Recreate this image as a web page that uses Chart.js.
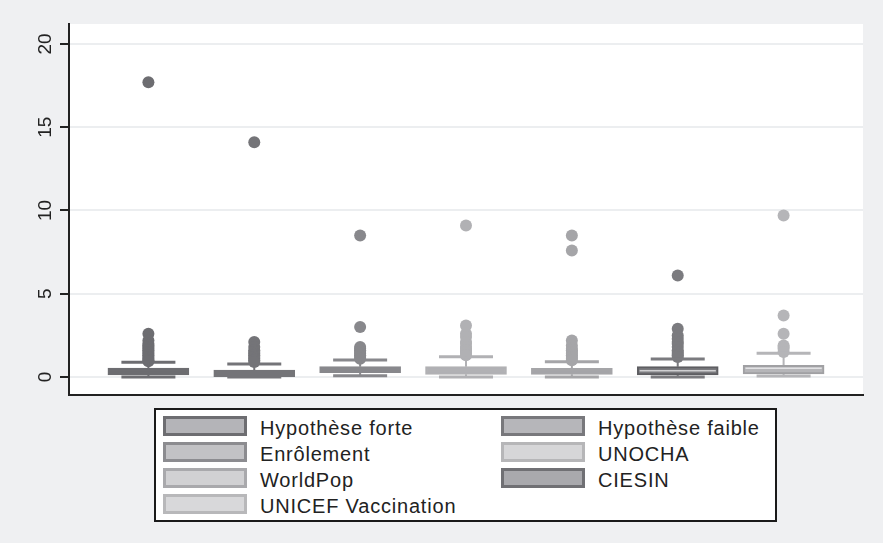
<!DOCTYPE html>
<html><head><meta charset="utf-8">
<script src="https://cdn.jsdelivr.net/npm/chart.js@4"></script>
<style>
html,body{margin:0;padding:0;background:#fff;}
#wrap{position:relative;width:883px;height:543px;overflow:hidden;}
canvas{position:absolute;left:0;top:0;}
#legend{position:absolute;left:154px;top:408px;width:623px;height:114px;border:2px solid #1a1a1a;background:#fff;box-sizing:border-box;font-family:"Liberation Sans",Arial,sans-serif;font-size:20px;color:#222;}
.item{position:absolute;height:20px;}
.key{position:absolute;left:0;top:0;width:84px;height:20px;box-sizing:border-box;border:3px solid;}
.lab{position:absolute;left:97px;top:0px;white-space:nowrap;line-height:24px;letter-spacing:0.8px;}
</style></head>
<body><div id="wrap"><canvas id="c" width="883" height="543"></canvas><div id="legend"></div></div>
<script>
// ---- data ----
const categories = ['Hypothèse forte','Hypothèse faible','Enrôlement','UNOCHA','WorldPop','CIESIN','UNICEF Vaccination'];
const q1 = [0.12, 0.02, 0.26, 0.16, 0.16, 0.12, 0.18];
const medians = [0.30, 0.20, 0.40, 0.35, 0.30, 0.38, 0.52];
const q3 = [0.54, 0.42, 0.62, 0.62, 0.52, 0.62, 0.70];
const lowerWhisker = [0.00, 0.00, 0.08, 0.00, 0.00, 0.00, 0.06];
const upperWhisker = [0.88, 0.78, 1.02, 1.22, 0.92, 1.08, 1.42];
const outliers = [
  [17.7, 2.6, 2.2, 2.0, 1.9, 1.8, 1.7, 1.6, 1.5, 1.4, 1.3, 1.2, 1.1, 1.0, 0.95],
  [14.1, 2.1, 1.8, 1.6, 1.5, 1.4, 1.3, 1.2, 1.1, 1.0, 0.9],
  [8.5, 3.0, 1.8, 1.7, 1.6, 1.5, 1.4, 1.3, 1.2, 1.1],
  [9.1, 3.1, 2.6, 2.4, 2.1, 2.0, 1.8, 1.7, 1.6, 1.5, 1.4, 1.3],
  [8.5, 7.6, 2.2, 1.9, 1.7, 1.6, 1.5, 1.4, 1.3, 1.2, 1.1, 1.0],
  [6.1, 2.9, 2.5, 2.3, 2.1, 2.0, 1.8, 1.6, 1.5, 1.4, 1.3, 1.2],
  [9.7, 3.7, 2.6, 1.9, 1.8, 1.7, 1.5]
];
const yTicks = [0, 5, 10, 15, 20];

// ---- styles ----
const fillColors = ['#6d6d71','#747478','#88888c','#b1b1b4','#a5a5a8','#7b7b7f','#b5b5b8'];
const borderColors = ['#6d6d71','#747478','#88888c','#b1b1b4','#a5a5a8','#5e5e62','#a0a0a3'];
const medianColors = ['#6d6d71','#747478','#88888c','#b1b1b4','#a5a5a8','#d0d0d2','#e2e2e4'];
const legendFill = ['#b4b4b8','#b6b6ba','#c2c2c5','#d6d6d8','#d1d1d3','#a9a9ad','#d8d8da'];
const legendBorder = ['#6d6d71','#78787c','#8c8c90','#b6b6b8','#a9a9ac','#707074','#b8b8ba'];
const CAP = 0.255, MED = 0.36, BOXW = 81;

const datasets = [];
categories.forEach((name, i) => {
  const x = i + 1;
  datasets.push({type:'bar', label:name, data:[{x:x, y:[q1[i], q3[i]]}],
    backgroundColor: fillColors[i], borderColor: borderColors[i], borderWidth: 2,
    borderSkipped:false, barThickness: BOXW, grouped:false, order:1});
  datasets.push({type:'line', label:name+' stems', data:[{x:x,y:q3[i]},{x:x,y:upperWhisker[i]},{x:x,y:null},{x:x,y:q1[i]},{x:x,y:lowerWhisker[i]}],
    borderColor: fillColors[i], borderWidth: 2, pointRadius:0, spanGaps:false, order:2});
  datasets.push({type:'line', label:name+' caps', data:[{x:x-CAP,y:upperWhisker[i]},{x:x+CAP,y:upperWhisker[i]},{x:x,y:null},{x:x-CAP,y:lowerWhisker[i]},{x:x+CAP,y:lowerWhisker[i]}],
    borderColor: fillColors[i], borderWidth: 3, pointRadius:0, spanGaps:false, order:2});
  datasets.push({type:'line', label:name+' median', data:[{x:x-MED,y:medians[i]},{x:x+MED,y:medians[i]}],
    borderColor: medianColors[i], borderWidth: 1.5, pointRadius:0, order:0});
  datasets.push({type:'line', label:name+' outliers', data: outliers[i].map(v => ({x:x, y:v})),
    showLine:false, pointRadius:6, pointHoverRadius:6, pointBackgroundColor: fillColors[i], pointBorderWidth:0, order:3});
});

const bgPlugin = {
  id:'bg',
  beforeDraw(chart){
    const {ctx, chartArea:a} = chart;
    ctx.save();
    ctx.fillStyle = '#eff0f2';
    ctx.fillRect(0,0,chart.width,chart.height);
    ctx.fillStyle = '#ffffff';
    ctx.fillRect(a.left, a.top, a.right-a.left, a.bottom-a.top);
    ctx.restore();
  },
  afterDraw(chart){
    const {ctx} = chart; const s = chart.scales.y;
    ctx.save();
    ctx.fillStyle = '#222';
    ctx.font = '19px "Liberation Sans", Arial, sans-serif';
    ctx.textAlign = 'center'; ctx.textBaseline = 'alphabetic';
    s.ticks.forEach(t => {
      const py = s.getPixelForValue(t.value);
      ctx.save(); ctx.translate(51, py); ctx.rotate(-Math.PI/2);
      ctx.fillText(String(t.value), 0, 0); ctx.restore();
    });
    ctx.restore();
  }
};

new Chart(document.getElementById('c'), {
  type:'bar',
  data:{datasets},
  options:{
    responsive:false, animation:false,
    layout:{padding:{left:0, right:20, top:24, bottom:148}},
    plugins:{legend:{display:false}, tooltip:{enabled:false}},
    scales:{
      x:{type:'linear', min:0.25, max:7.75, offset:false,
         ticks:{display:false}, grid:{display:false, drawTicks:false},
         border:{display:true, color:'#222', width:2},
         afterFit(s){ s.height = 0; }},
      y:{type:'linear', min:-1.08, max:21.2,
         afterBuildTicks(s){ s.ticks = yTicks.map(v => ({value:v})); },
         ticks:{display:false},
         grid:{color:'#eceef0', lineWidth:2, tickColor:'#222', tickLength:9, drawTicks:true},
         border:{display:true, color:'#222', width:2},
         afterFit(s){ s.width = 69; }}
    }
  },
  plugins:[bgPlugin]
});

// ---- legend (HTML, built from the series) ----
const lg = document.getElementById('legend');
categories.forEach((name, i) => {
  const col = i % 2, row = Math.floor(i / 2);
  const it = document.createElement('div');
  it.className = 'item';
  it.style.left = (col === 0 ? 7 : 345) + 'px';
  it.style.top = (6 + row * 26) + 'px';
  const k = document.createElement('div'); k.className = 'key';
  k.style.background = legendFill[i]; k.style.borderColor = legendBorder[i];
  const l = document.createElement('div'); l.className = 'lab'; l.textContent = name;
  it.appendChild(k); it.appendChild(l); lg.appendChild(it);
});
</script>
</body></html>
